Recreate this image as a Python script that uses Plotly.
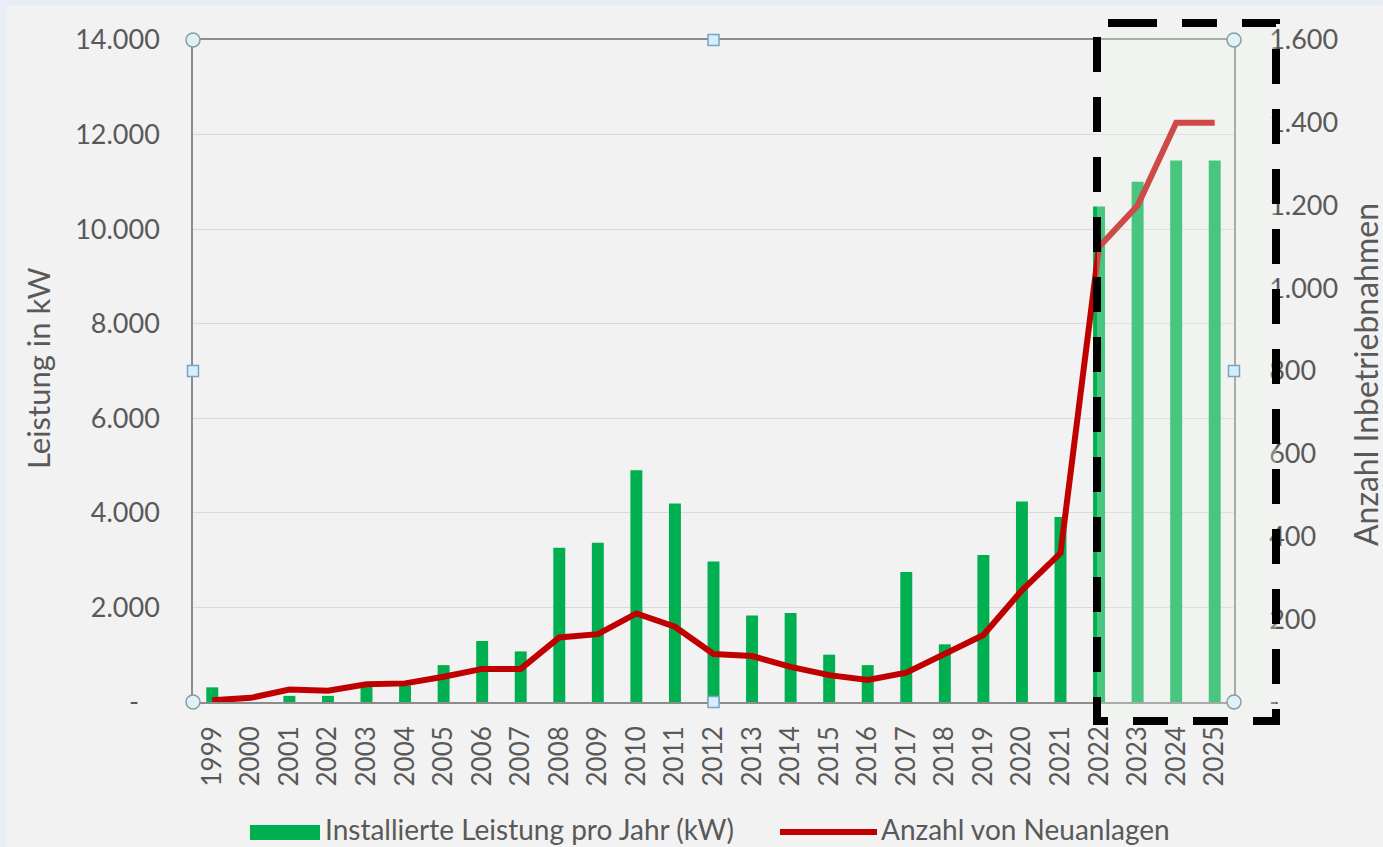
import plotly.graph_objects as go

# ---------------- data ----------------
years = [str(y) for y in range(1999, 2026)]
leistung_kw = [310, 0, 130, 130, 340, 350, 780, 1290, 1070, 3260, 3370, 4900, 4200,
               2970, 1830, 1880, 1000, 780, 2750, 1220, 3110, 4240, 3910,
               10480, 11000, 11450, 11450]
neuanlagen = [4, 10, 30, 27, 43, 45, 61, 80, 80, 156, 164, 214, 182,
              116, 111, 85, 65, 53, 71, 118, 162, 270, 360,
              1100, 1200, 1400, 1400]
left_ticks = [0, 2000, 4000, 6000, 8000, 10000, 12000, 14000]
left_text = ["-\u00a0\u00a0\u00a0", "2.000", "4.000", "6.000", "8.000", "10.000", "12.000", "14.000"]
right_ticks = [0, 200, 400, 600, 800, 1000, 1200, 1400, 1600]
right_text = ["-", "200", "400", "600", "800", "1.000", "1.200", "1.400", "1.600"]

bar_name = "Installierte Leistung pro Jahr (kW)"
line_name = "Anzahl von Neuanlagen"
left_title = "Leistung in kW"
right_title = "Anzahl Inbetriebnahmen"

# ---------------- layout geometry ----------------
W, H = 1383, 847
L, R, T, B = 193, 1234, 40, 702
PW, PH = R - L, B - T

def fx(px):
    return (px - L) / PW

def fy(py):
    return (B - py) / PH

GREEN = "#00B050"
RED = "#C00000"
GREY_TXT = "#595959"
FONT = "Lato"

fig = go.Figure()
fig.add_trace(go.Bar(x=years, y=leistung_kw, name=bar_name, marker_color=GREEN,
                     marker_line_width=0, width=0.31, yaxis="y", showlegend=False))
fig.add_trace(go.Scatter(x=years, y=neuanlagen, name=line_name, mode="lines",
                         line=dict(color=RED, width=6), yaxis="y2", showlegend=False))

shapes = []
# outer bluish frame strips
shapes.append(dict(type="rect", xref="paper", yref="paper", x0=fx(0), x1=fx(7), y0=fy(H), y1=fy(0),
                   fillcolor="#E9EDF5", line_width=0, layer="below"))
shapes.append(dict(type="rect", xref="paper", yref="paper", x0=fx(0), x1=fx(W), y0=fy(5), y1=fy(0),
                   fillcolor="#E9EDF5", line_width=0, layer="below"))
# forecast highlight box (dashed), drawn clockwise from the top edge
bx0, bx1, by0, by1 = 1097, 1276, 23, 721
box_path = (f"M{fx(bx0 + 25)},{fy(by0)} L{fx(bx1)},{fy(by0)} L{fx(bx1)},{fy(by1)} "
            f"L{fx(bx0)},{fy(by1)} L{fx(bx0)},{fy(by0)} Z")
shapes.append(dict(type="path", xref="paper", yref="paper", path=box_path,
                   fillcolor="rgba(238,244,236,0.30)", line=dict(color="black", width=8, dash="35px,25px"),
                   layer="above"))
# selection handles: circles at corners
r = 7
for (cx, cy) in [(L, T), (R, T), (L, B), (R, B)]:
    shapes.append(dict(type="circle", xref="paper", yref="paper", x0=fx(cx - r), x1=fx(cx + r),
                       y0=fy(cy + r), y1=fy(cy - r), fillcolor="#DDF1F6",
                       line=dict(color="#8C9AA3", width=1.5), layer="above"))
# squares at midpoints
s = 5.5
for (cx, cy) in [((L + R) / 2, T), ((L + R) / 2, B), (L, (T + B) / 2), (R, (T + B) / 2)]:
    shapes.append(dict(type="rect", xref="paper", yref="paper", x0=fx(cx - s), x1=fx(cx + s),
                       y0=fy(cy + s), y1=fy(cy - s), fillcolor="#D2F0FC",
                       line=dict(color="#7FA0BE", width=1.5), layer="above"))
# custom legend symbols
shapes.append(dict(type="rect", xref="paper", yref="paper", x0=fx(250), x1=fx(320), y0=fy(840), y1=fy(825),
                   fillcolor=GREEN, line_width=0))
shapes.append(dict(type="line", xref="paper", yref="paper", x0=fx(780), x1=fx(877), y0=fy(832), y1=fy(832),
                   line=dict(color=RED, width=6)))

annotations = [
    dict(text=bar_name, xref="paper", yref="paper", x=fx(323), y=fy(829), xanchor="left", yanchor="middle",
         showarrow=False, font=dict(family=FONT, size=28, color=GREY_TXT)),
    dict(text=line_name, xref="paper", yref="paper", x=fx(879), y=fy(829), xanchor="left", yanchor="middle",
         showarrow=False, font=dict(family=FONT, size=28, color=GREY_TXT)),
    dict(text=left_title, xref="paper", yref="paper", x=fx(38), y=fy(368), xanchor="center", yanchor="middle",
         textangle=-90, showarrow=False, font=dict(family=FONT, size=31, color=GREY_TXT)),
    dict(text=right_title, xref="paper", yref="paper", x=fx(1366), y=fy(375), xanchor="center", yanchor="middle",
         textangle=-90, showarrow=False, font=dict(family=FONT, size=32, color=GREY_TXT)),
]

fig.update_layout(
    width=W, height=H,
    margin=dict(l=L, r=W - R, t=T, b=H - B, autoexpand=False),
    paper_bgcolor="#F2F2F2", plot_bgcolor="#F2F2F2",
    font=dict(family=FONT, size=26, color=GREY_TXT),
    shapes=shapes, annotations=annotations,
    showlegend=False,
    xaxis=dict(type="category", showline=True, linecolor="#8C8C8C", linewidth=1.5, mirror=True,
               tickangle=-90, ticks="outside", ticklen=12, tickcolor="rgba(0,0,0,0)",
               tickfont=dict(family=FONT, size=26, color=GREY_TXT), automargin=False, showgrid=False),
    yaxis=dict(range=[0, 14000], tickvals=left_ticks, ticktext=left_text, showgrid=True,
               gridcolor="#D9D9D9", gridwidth=1, showline=True, linecolor="#8C8C8C", linewidth=1.5,
               ticks="outside", ticklen=26, tickcolor="rgba(0,0,0,0)", zeroline=False,
               tickfont=dict(family=FONT, size=27, color=GREY_TXT), automargin=False),
    yaxis2=dict(range=[0, 1600], tickvals=right_ticks, ticktext=right_text, overlaying="y", side="right",
                showgrid=False, showline=True, linecolor="#8C8C8C", linewidth=1.5, zeroline=False,
                ticks="outside", ticklen=28, tickcolor="rgba(0,0,0,0)",
                tickfont=dict(family=FONT, size=27, color=GREY_TXT), automargin=False),
)

fig.write_html("out.html", config={"displayModeBar": False},
               post_script="document.body.style.margin='0';document.body.style.padding='0';"
                           "document.body.style.overflow='hidden';")
